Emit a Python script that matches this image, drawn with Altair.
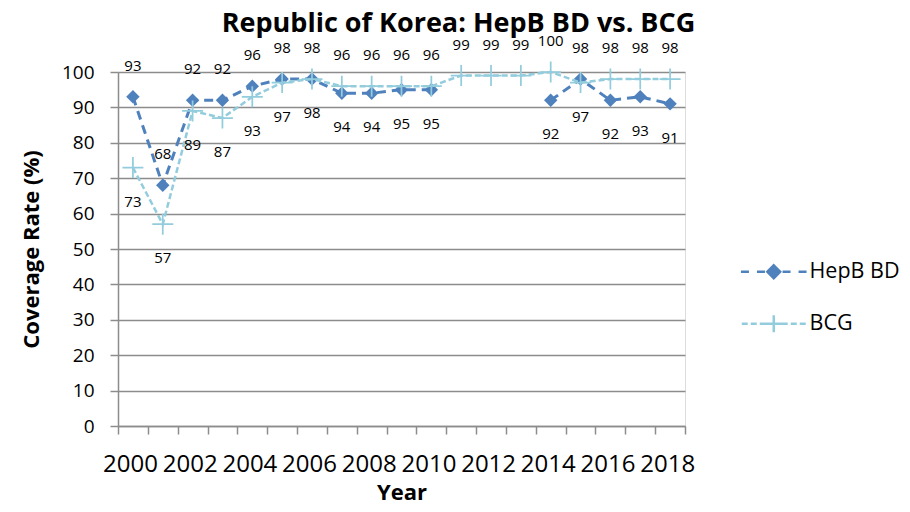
import altair as alt
import pandas as pd

# ---- data ----
years = list(range(2000, 2019))
hepb_bd = [93, 68, 92, 92, 96, 98, 98, 94, 94, 95, 95, None, None, None, 92, 98, 92, 93, 91]
bcg = [73, 57, 89, 87, 93, 97, 98, 96, 96, 96, 96, 99, 99, 99, 100, 97, 98, 98, 98]
series_names = ["HepB BD", "BCG"]
series_colors = ["#4F81BD", "#93CDDD"]
y_ticks = list(range(0, 101, 10))
x_tick_bounds = [1999.5 + i for i in range(20)]

chart_title = "Republic of Korea: HepB BD vs. BCG"
x_title = "Year"
y_title = "Coverage Rate (%)"

FONT = "Open Sans"
GRAY = "#8c8c8c"

# ---- tables built from the arrays ----
hep_rows = []
seg = 0
prev_missing = True
for yr, v in zip(years, hepb_bd):
    if v is None:
        prev_missing = True
        continue
    if prev_missing:
        seg += 1
        prev_missing = False
    hep_rows.append({"year": yr, "value": v, "seg": seg, "series": "HepB BD"})
hep_df = pd.DataFrame(hep_rows)
bcg_df = pd.DataFrame({"year": years, "value": bcg, "series": "BCG"})

lab_rows = []
for yr, h, b in zip(years, hepb_bd, bcg):
    if h is None:
        lab_rows.append({"year": yr, "value": b, "pos": "above"})
    elif h >= b:
        lab_rows.append({"year": yr, "value": h, "pos": "above"})
        lab_rows.append({"year": yr, "value": b, "pos": "below"})
    else:
        lab_rows.append({"year": yr, "value": b, "pos": "above"})
        lab_rows.append({"year": yr, "value": h, "pos": "below"})
lab_df = pd.DataFrame(lab_rows)
lab_df["label"] = lab_df["value"].astype(int).astype(str)

# ---- encodings ----
x_enc = alt.X(
    "year:Q",
    scale=alt.Scale(domain=[1999.5, 2018.5], nice=False, zero=False),
    axis=alt.Axis(
        values=x_tick_bounds,
        labelExpr="((datum.value + 0.5) % 2 == 0) && datum.value < 2018 ? '' + (datum.value + 0.5) : ''",
        labelOffset=12, labelFlush=False, labelOverlap=False, labelAlign="center",
        labelFont=FONT, labelFontSize=24, labelColor="black", labelPadding=18,
        tickSize=8, tickColor=GRAY, tickWidth=1.5,
        domainColor=GRAY, domainWidth=1.5, grid=False,
        titleFont=FONT, titleFontSize=22, titleFontWeight="bold", titleColor="black",
        titleX=283.5, titleY=66, titleBaseline="middle", titleAlign="center",
    ),
    title=x_title,
)
y_enc = alt.Y(
    "value:Q",
    scale=alt.Scale(domain=[0, 100], nice=False),
    axis=alt.Axis(
        values=y_ticks,
        labelFont=FONT, labelFontSize=19, labelColor="black", labelPadding=16,
        tickSize=8, tickColor=GRAY, tickWidth=1.5,
        domainColor=GRAY, domainWidth=1.5,
        grid=True, gridColor=GRAY, gridWidth=1.5,
        titleFont=FONT, titleFontSize=22, titleFontWeight="bold", titleColor="black",
        titleX=-87, titleY=177, titleBaseline="middle", titleAlign="center", titleAngle=-90,
    ),
    title=y_title,
)

hep_line = alt.Chart(hep_df).mark_line(
    color=series_colors[0], strokeWidth=3, strokeDash=[9, 6]
).encode(x=x_enc, y=y_enc, detail="seg:N")

hep_pts = alt.Chart(hep_df).mark_point(
    shape="diamond", filled=True, size=180, color=series_colors[0], opacity=1, strokeWidth=0
).encode(x=x_enc, y=y_enc)

bcg_line = alt.Chart(bcg_df).mark_line(
    color=series_colors[1], strokeWidth=2.5, strokeDash=[6, 3]
).encode(x=x_enc, y=y_enc)

bcg_pts = alt.Chart(bcg_df).mark_point(
    shape="M-1,0L1,0M0,-1L0,1", filled=False, size=441,
    color=series_colors[1], strokeWidth=1.75, opacity=1
).encode(x=x_enc, y=y_enc)

labels_above = alt.Chart(lab_df).transform_filter("datum.pos == 'above'").mark_text(
    font=FONT, fontSize=15, color="black", dy=-31, baseline="middle", align="center"
).encode(x=x_enc, y=y_enc, text="label:N")

labels_below = alt.Chart(lab_df).transform_filter("datum.pos == 'below'").mark_text(
    font=FONT, fontSize=15, color="black", dy=34, baseline="middle", align="center"
).encode(x=x_enc, y=y_enc, text="label:N")

# legend symbols: dashed line with marker, in units of 8px
hep_legend_path = (
    "M-4.1,0H-3.1M-2.1,0H-1.1M1.1,0H2.1M3.1,0H4.1"
    "M0,-0.8L0.8,0L0,0.8L-0.8,0Z"
    "M0,-0.45L0.45,0L0,0.45L-0.45,0Z"
    "M0,-0.1L0.1,0L0,0.1L-0.1,0Z"
)
bcg_legend_path = (
    "M-4,0H-3.25M-2.875,0H-2.125M-1.75,0H-1"
    "M-1,0H1M0,-1.06V1.06"
    "M1,0H1.75M2.125,0H2.875M3.25,0H4"
)

legend_props = dict(
    orient="none", legendX=645, legendY=189, title=None, padding=0,
    symbolSize=256, symbolStrokeWidth=2.5, symbolOpacity=1,
    labelFont=FONT, labelFontSize=21.5, labelColor="black", labelOffset=25,
    rowPadding=26, labelLimit=200,
)

legend_layer = alt.Chart(pd.concat([hep_df, bcg_df])).transform_filter(
    "datum.year < 0"
).mark_point(filled=False, size=256, strokeWidth=2.5).encode(
    x=x_enc, y=y_enc,
    color=alt.Color("series:N", scale=alt.Scale(domain=series_names, range=series_colors),
                    legend=alt.Legend(**legend_props)),
    shape=alt.Shape("series:N", scale=alt.Scale(domain=series_names,
                                                range=[hep_legend_path, bcg_legend_path]),
                    legend=alt.Legend(**legend_props)),
)

chart = alt.layer(
    hep_line, hep_pts, bcg_line, bcg_pts, labels_above, labels_below, legend_layer
).properties(
    width=567, height=354,
    padding={"left": 110, "top": 64, "right": 217, "bottom": 78},
    autosize=alt.AutoSizeParams(type="none"),
    title=alt.TitleParams(
        text=chart_title, font=FONT, fontSize=27, fontWeight="bold", color="black",
        anchor="middle", frame="group", dx=57, dy=28, offset=3, baseline="alphabetic",
    ),
).configure_view(stroke=None).configure(background="white")

chart.save("out.html", embed_options={"renderer": "svg", "actions": False})
